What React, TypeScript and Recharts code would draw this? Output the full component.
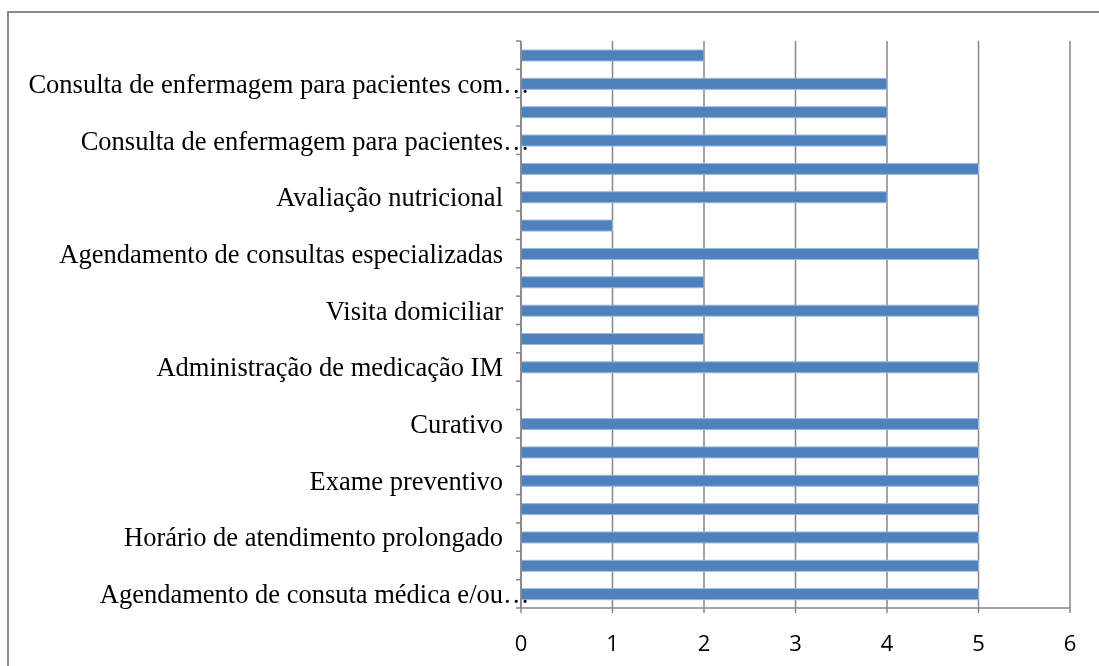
import React from 'react';
import { BarChart, Bar, XAxis, YAxis, CartesianGrid } from 'recharts';

// bottom to top; empty label = row whose label Excel skipped
const categories = [
  'Agendamento de consuta médica e/ou…',
  '',
  'Horário de atendimento prolongado',
  '',
  'Exame preventivo',
  '',
  'Curativo',
  '',
  'Administração de medicação IM',
  '',
  'Visita domiciliar',
  '',
  'Agendamento de consultas especializadas',
  '',
  'Avaliação nutricional',
  '',
  'Consulta de enfermagem para pacientes…',
  '',
  'Consulta de enfermagem para pacientes com…',
  '',
];

const values = [5, 5, 5, 5, 5, 5, 5, 0, 5, 2, 5, 2, 5, 1, 4, 5, 4, 4, 4, 2];

const xTicks = [0, 1, 2, 3, 4, 5, 6];

const data = categories.map((label, i) => ({ key: `c${i}`, label, value: values[i] }));

const W = 1084;
const H = 650;
const M = { top: 33, right: 21, bottom: 20, left: 1 };
const Y_W = 513;
const X_H = 30;
const plotH = H - M.top - M.bottom - X_H;
const band = plotH / categories.length;
const AXIS = '#868686';
const SERIF = "'Liberation Serif', 'Times New Roman', serif";

const CategoryTick = (props: any) => {
  const { x, y, payload } = props;
  const idx = payload.index;
  const label = categories[idx] || '';
  const truncated = label.endsWith('…');
  const base = truncated ? label.slice(0, -1) : label;
  const ax = M.left + Y_W;
  return (
    <g>
      <line x1={ax - 5} x2={ax} y1={y + band / 2} y2={y + band / 2} stroke={AXIS} strokeWidth={1.5} />
      {idx === categories.length - 1 && (
        <line x1={ax - 5} x2={ax} y1={y - band / 2} y2={y - band / 2} stroke={AXIS} strokeWidth={1.5} />
      )}
      {base && (
        <text x={x} y={y} dy="0.35em" textAnchor="end" fontFamily={SERIF} fontSize={26.5} fill="#000">
          {base}
        </text>
      )}
      {truncated && (
        <text x={x} y={y} dy="0.35em" textAnchor="start" fontFamily={SERIF} fontSize={26.5} fill="#000">
          …
        </text>
      )}
    </g>
  );
};

export default function App() {
  return (
    <div style={{ position: 'relative', width: W, height: H, background: '#fff', marginLeft: -1 }}>
      {/* outer chart frame: only its left and top edges fall inside the picture */}
      <div style={{ position: 'fixed', left: 7, top: 11, width: 2, height: 700, background: '#8a8a8a' }} />
      <div style={{ position: 'fixed', left: 7, top: 11, width: 1200, height: 2, background: '#8a8a8a' }} />
      <div style={{ position: 'absolute', left: 0, top: 0 }}>
        <BarChart width={W} height={H} data={data} layout="vertical" margin={M} barSize={11}>
          <CartesianGrid horizontal={false} stroke={AXIS} strokeWidth={1.5} />
          <XAxis
            type="number"
            domain={[0, 6]}
            ticks={xTicks}
            height={X_H}
            stroke={AXIS}
            strokeWidth={1.5}
            tickSize={5}
            tickMargin={22}
            tick={{ fill: '#000', fontSize: 22, fontFamily: "'Open Sans', 'Noto Sans', sans-serif" }}
          />
          <YAxis
            type="category"
            dataKey="key"
            reversed
            width={Y_W}
            interval={0}
            stroke={AXIS}
            strokeWidth={1.5}
            tickLine={false}
            tickSize={5}
            tickMargin={13}
            tick={<CategoryTick />}
          />
          <Bar dataKey="value" fill="#4F81BD" stroke="#9DB8DB" strokeWidth={1} isAnimationActive={false} />
        </BarChart>
      </div>
    </div>
  );
}
